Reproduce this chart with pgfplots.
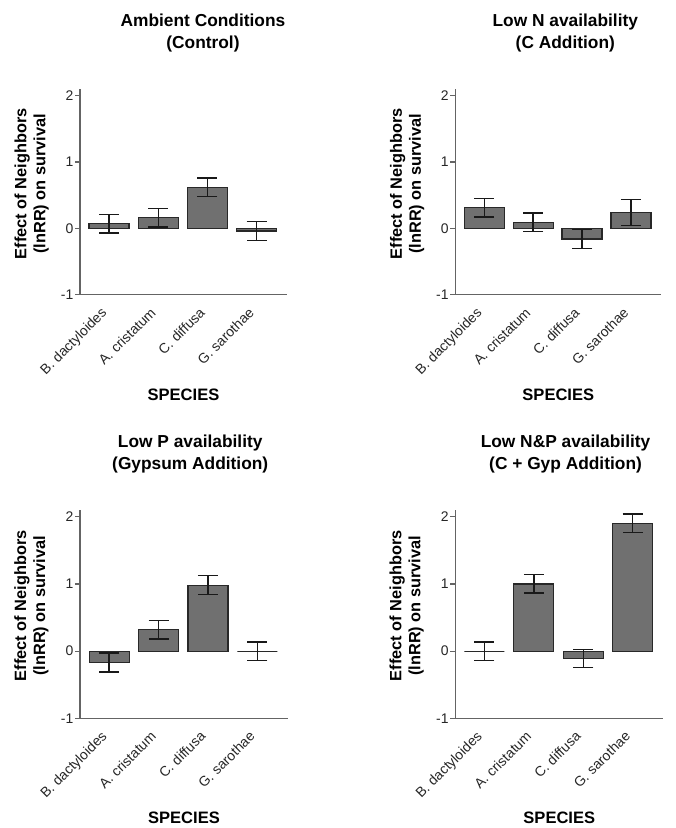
\documentclass[border=0pt]{standalone}
\usepackage{fontspec}
\setmainfont{Liberation Sans}
\usepackage{pgfplots}
\pgfplotsset{compat=1.18}
\definecolor{barfill}{RGB}{112,112,112}
\definecolor{baredge}{RGB}{40,40,40}
\definecolor{axgray}{RGB}{100,100,100}
\pgfplotsset{
 panel/.style={
  scale only axis,
  xmin=-0.59, xmax=3.62, ymin=-1, ymax=2.1,
  axis lines*=left,
  axis line style={axgray, line width=1.5bp},
  ytick={-1,0,1,2},
  yticklabels={-1,0,1,2},
  xtick={0,1,2,3},
  xticklabels={B. dactyloides, A. cristatum, C. diffusa, G. sarothae},
  x tick style={draw=none},
  y tick style={axgray, line width=1.2bp},
  major tick length=5bp,
  tick align=outside,
  tick pos=left,
  /pgf/number format/assume math mode=true,
  yticklabel style={font=\fontsize{14}{16}\selectfont, inner sep=1.5bp, text=black!85},
  xticklabel style={xshift=-1.5bp, yshift=-14bp, rotate=45, anchor=base east, font=\fontsize{14}{16}\selectfont, inner sep=0pt, text=black!85},
  xlabel={\textbf{SPECIES}},
  xlabel style={at={(axis description cs:0.5,0)}, anchor=center, yshift=-100bp, font=\fontsize{16.6}{20}\selectfont},
  ylabel={Effect of Neighbors\\(lnRR) on survival},
  ylabel style={at={(axis description cs:-0.234,0.54)}, anchor=center, align=center, font=\bfseries\fontsize{16.4}{19}\selectfont},
  title style={anchor=center, align=center, font=\bfseries\fontsize{17.4}{21.5}\selectfont},
 },
 bars/.style={ybar, bar width=40bp, fill=barfill, draw=baredge, line width=1.2bp,
  error bars/.cd, y dir=both, y explicit,
  error bar style={black!90, line width=1.3bp},
  error mark options={rotate=90, black!90, line width=1.3bp, mark size=10bp}},
}
\begin{document}
\begin{tikzpicture}
\path[use as bounding box] (0,0) rectangle (676bp,828bp);
% top-left
\begin{axis}[panel, at={(80bp,533.3bp)}, anchor=south west, width=207bp, height=205.6bp,
  title={Ambient Conditions\\(Control)},
  title style={at={(axis description cs:0.594,1)}, yshift=50bp}]
\addplot[bars] coordinates {(0,0.07) +- (0,0.14) (1,0.16) +- (0,0.14) (2,0.62) +- (0,0.14) (3,-0.04) +- (0,0.14)};
\end{axis}
% top-right
\begin{axis}[panel, at={(455.3bp,533.3bp)}, anchor=south west, width=206bp, height=205.6bp,
  title={Low N availability\\(C Addition)},
  title style={at={(axis description cs:0.534,1)}, yshift=50bp}]
\addplot[bars] coordinates {(0,0.31) +- (0,0.14) (1,0.09) +- (0,0.14) (2,-0.16) +- (0,0.14) (3,0.24) +- (0,0.20)};
\end{axis}
% bottom-left
\begin{axis}[panel, at={(80bp,109.7bp)}, anchor=south west, width=208bp, height=208.3bp,
  title={Low P availability\\(Gypsum Addition)},
  title style={at={(axis description cs:0.53,1)}, yshift=50bp}]
\addplot[bars] coordinates {(0,-0.17) +- (0,0.14) (1,0.32) +- (0,0.14) (2,0.98) +- (0,0.14) (3,0.0) +- (0,0.135)};
\end{axis}
% bottom-right
\begin{axis}[panel, at={(455.3bp,109.7bp)}, anchor=south west, width=208bp, height=208.3bp,
  title={Low N\&P availability\\(C + Gyp Addition)},
  title style={at={(axis description cs:0.53,1)}, yshift=50bp}]
\addplot[bars] coordinates {(0,0.0) +- (0,0.135) (1,1.00) +- (0,0.135) (2,-0.11) +- (0,0.135) (3,1.90) +- (0,0.14)};
\end{axis}
\end{tikzpicture}
\end{document}
